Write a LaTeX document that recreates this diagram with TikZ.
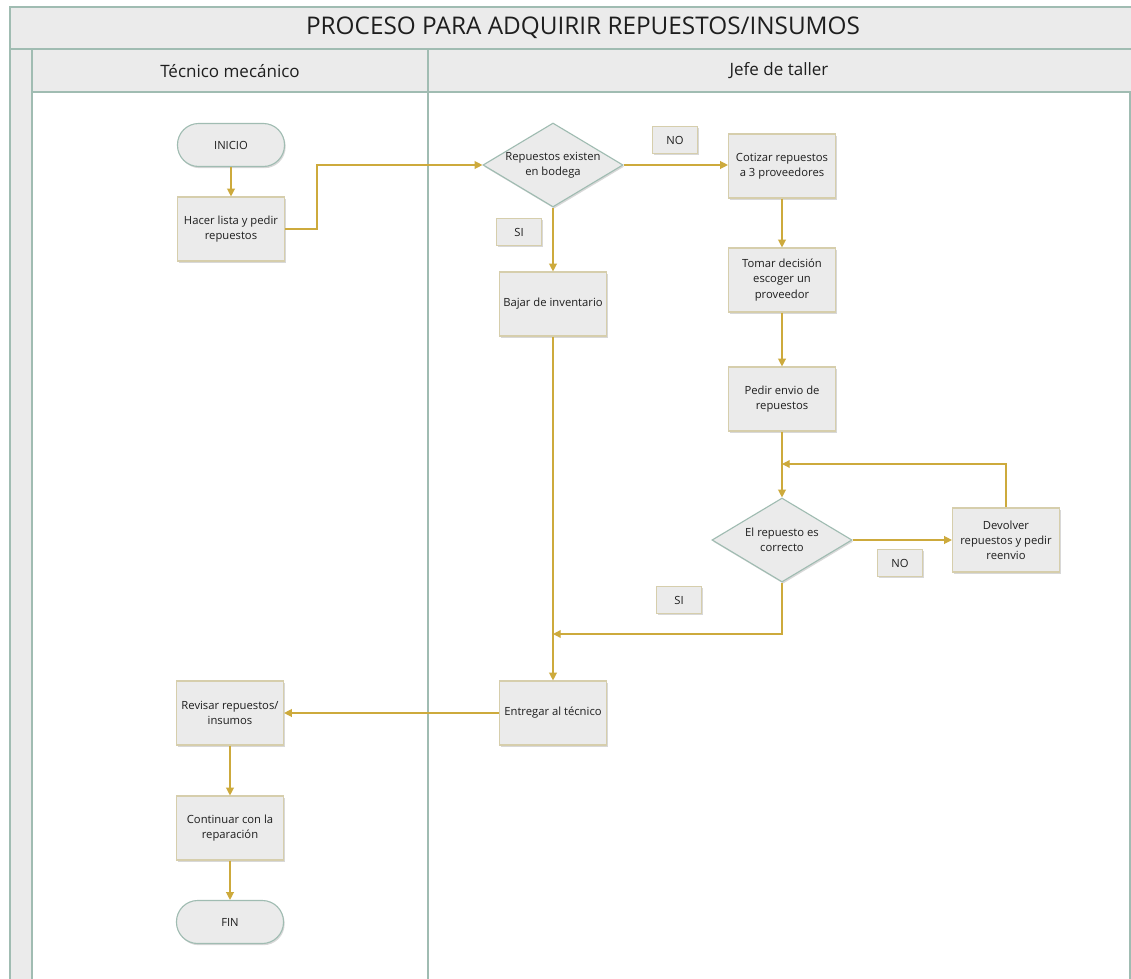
\documentclass[tikz,border=0pt]{standalone}
\usepackage{fontspec}
\setmainfont{Open Sans}
\usetikzlibrary{positioning, shapes.geometric, arrows.meta, shadows}

\definecolor{lanefill}{RGB}{235,235,235}
\definecolor{laneline}{RGB}{160,188,178}
\definecolor{boxline}{RGB}{214,206,172}
\definecolor{flowc}{RGB}{205,170,60}
\definecolor{txt}{RGB}{30,30,30}

\tikzset{
	lane/.style={draw=laneline, line width=1pt, fill=lanefill},
	body/.style={draw=laneline, line width=1pt, fill=white},
	sombra/.style={drop shadow={shadow xshift=0.8pt, shadow yshift=-1.2pt, opacity=0.25, fill=black!60}},
	proc/.style={rectangle, draw=boxline, line width=0.8pt, fill=lanefill, sombra,
		minimum width=2.675cm, minimum height=1.6cm, align=center, text=txt, font=\fontsize{8}{10.8}\selectfont, inner sep=1pt},
	term/.style={rectangle, rounded corners=0.53cm, draw=laneline, line width=0.8pt, fill=lanefill, sombra,
		minimum width=2.675cm, minimum height=1.075cm, align=center, text=txt, font=\fontsize{8}{10.8}\selectfont},
	decision/.style={diamond, draw=laneline, line width=0.8pt, fill=lanefill, sombra,
		minimum width=3.5cm, minimum height=2.1cm, aspect=1.67, inner sep=0pt, align=center, text=txt, font=\fontsize{8}{10.8}\selectfont},
	tag/.style={rectangle, draw=boxline, line width=0.8pt, fill=lanefill, sombra,
		minimum width=1.125cm, minimum height=0.675cm, text=txt, font=\fontsize{8}{10.8}\selectfont},
	flow/.style={draw=flowc, line width=0.9pt, -{Triangle[width=5.5pt, length=5.5pt]}}
}

\begin{document}
\begin{tikzpicture}[x=0.025cm, y=-0.025cm]
	\useasboundingbox (0,0) rectangle (1131,979);
	\fill[white] (0,0) rectangle (1131,979);

	% marco y carriles
	\begin{scope}
		\clip (0,0) rectangle (1131,979);
		\draw[lane] (10,7) rectangle (1145,49);
		\draw[lane] (10,49) rectangle (32,1000);
		\draw[body] (32,92) rectangle (428,1000);
		\draw[body] (428,92) rectangle (1130,1000);
		\draw[lane] (32,49) rectangle (428,92);
		\draw[lane] (428,49) rectangle (1145,92);
		\node[text=txt, font=\fontsize{17.3}{20}\selectfont] (titulo) at (583,28) {PROCESO PARA ADQUIRIR REPUESTOS/INSUMOS};
		\node[text=txt, font=\fontsize{12.1}{14}\selectfont] (tecnico) at (230,71) {Técnico mecánico};
		\node[text=txt, font=\fontsize{12.1}{14}\selectfont] (jefe) at (779,71) {Jefe de taller};
	\end{scope}

	% nodos
	\node[term] (ini) at (231,145) {INICIO};
	\node[proc] (lista) at (231,229) {Hacer lista y pedir\\repuestos};
	\node[decision] (dec1) at (553,165) {Repuestos existen\\en bodega};
	\node[tag] (no1) at (675,140) {NO};
	\node[proc] (cot) at (782,166) {Cotizar repuestos\\a 3 proveedores};
	\node[tag] (si1) at (519,232) {SI};
	\node[proc] (bajar) at (553,304) {Bajar de inventario};
	\node[proc] (tomar) at (782,280) {Tomar decisión\\escoger un\\proveedor};
	\node[proc] (pedir) at (782,399) {Pedir envio de\\repuestos};
	\node[decision] (dec2) at (782,540) {El repuesto es\\correcto};
	\node[proc] (dev) at (1006,540) {Devolver\\repuestos y pedir\\reenvio};
	\node[tag] (no2) at (900,563) {NO};
	\node[tag] (si2) at (679,600) {SI};
	\node[proc] (entregar) at (553,713) {Entregar al técnico};
	\node[proc] (revisar) at (230,713) {Revisar repuestos/\\insumos};
	\node[proc] (cont) at (230,828) {Continuar con la\\reparación};
	\node[term] (fin) at (230,922) {FIN};

	\coordinate (k1) at (317,165);
	\coordinate (j1) at (782,464);
	\coordinate (j2) at (553,634);

	% conectores
	\draw[flow] (ini) -- (lista);
	\draw[flow] (lista.east) -| (k1) -- (dec1.west);
	\draw[flow] (dec1.east) -- (dec1.east -| cot.west);
	\draw[flow] (dec1.south) -- (bajar.north);
	\draw[flow] (cot) -- (tomar);
	\draw[flow] (tomar) -- (pedir);
	\draw[flow] (pedir) -- (dec2.north);
	\draw[flow] (dec2.east) -- (dev.west);
	\draw[flow] (dev.north) |- (j1);
	\draw[flow] (dec2.south) |- (j2);
	\draw[flow] (bajar) -- (entregar);
	\draw[flow] (entregar) -- (revisar);
	\draw[flow] (revisar) -- (cont);
	\draw[flow] (cont) -- (fin);
\end{tikzpicture}
\end{document}
